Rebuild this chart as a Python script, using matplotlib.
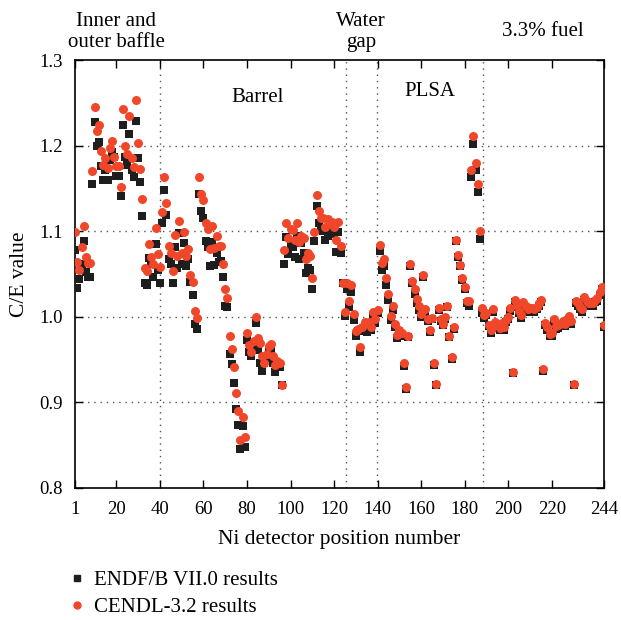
import matplotlib
matplotlib.use("Agg")
import matplotlib.pyplot as plt
from matplotlib.lines import Line2D

plt.rcParams['font.family'] = ['Liberation Serif', 'DejaVu Serif']

positions = list(range(1, 245))

endf = [
    1.078, 1.034, 1.044, 1.062, 1.088, 1.052, 1.046, 1.047,
    1.155, 1.227, 1.199, 1.204, 1.176, 1.160, 1.171, 1.160, 1.183, 1.192, 1.187, 1.164,
    1.164, 1.141, 1.224, 1.187, 1.177, 1.214, 1.172, 1.163, 1.229, 1.185, 1.158, 1.118,
    1.039, 1.037, 1.069, 1.062, 1.046, 1.085, 1.055, 1.040,
    1.110, 1.148, 1.119, 1.068, 1.062, 1.039, 1.082, 1.057, 1.098, 1.062, 1.086, 1.059,
    1.068, 1.041, 1.026, 0.992, 0.986,
    1.144, 1.124, 1.116, 1.088, 1.082, 1.059, 1.087, 1.060, 1.075, 1.064, 1.065, 1.046,
    1.013, 1.011,
    0.957, 0.945, 0.923, 0.892, 0.874, 0.846, 0.872, 0.848,
    0.973, 0.959, 0.954, 0.964, 0.993, 0.961, 0.946, 0.937, 0.946, 0.952, 0.960, 0.962,
    0.946, 0.936, 0.944, 0.941, 0.920,
    1.062, 1.093, 1.073, 1.083, 1.082, 1.070, 1.094, 1.067, 1.086, 1.075, 1.051, 1.057,
    1.055, 1.033, 1.088, 1.129, 1.110, 1.101, 1.100, 1.090, 1.094, 1.097, 1.100, 1.097,
    1.076, 1.099, 1.075, 1.040,
    1.001, 1.033, 1.011, 1.029, 0.996, 0.977, 0.983, 0.959, 0.983, 0.987, 0.982, 0.986,
    0.985, 1.001, 0.993, 1.004,
    1.077, 1.055, 1.059, 1.037, 1.020, 0.996, 1.008, 0.988, 0.975, 0.981, 0.978, 0.943,
    0.916, 0.976, 1.059, 1.039, 1.027, 1.016, 1.008, 1.000, 1.047, 1.006, 0.995, 0.982,
    0.997, 0.944, 0.920, 1.008, 0.995, 0.990, 0.998, 1.011, 0.976, 0.951, 0.986, 1.088,
    1.070, 1.059, 1.043, 1.033, 1.016, 1.013, 1.163, 1.202, 1.171, 1.146, 1.091,
    1.005, 0.999, 1.002, 0.989, 0.981, 1.006, 0.991, 0.987, 0.984, 0.990, 0.985, 0.994,
    0.997, 1.007, 0.934, 1.017, 1.011, 1.004, 0.999, 1.014, 1.010, 1.006, 1.007, 1.007,
    1.006, 1.009, 1.013, 1.017, 0.937, 0.990, 0.985, 0.977, 0.978, 0.994, 0.986, 0.987,
    0.989, 0.992, 0.989, 0.995, 0.998, 0.992, 0.920, 1.016, 1.013, 1.009, 1.006, 1.020,
    1.015, 1.013, 1.014, 1.013, 1.017, 1.019, 1.026, 1.032, 0.988,
]

cendl = [
    1.099, 1.064, 1.055, 1.081, 1.106, 1.070, 1.063, 1.063,
    1.170, 1.245, 1.217, 1.224, 1.194, 1.177, 1.186, 1.174, 1.197, 1.205, 1.187, 1.176,
    1.176, 1.152, 1.243, 1.200, 1.190, 1.234, 1.186, 1.175, 1.253, 1.203, 1.173, 1.138,
    1.057, 1.053, 1.085, 1.070, 1.062, 1.104, 1.073, 1.058,
    1.122, 1.163, 1.133, 1.083, 1.075, 1.054, 1.096, 1.071, 1.112, 1.075, 1.099, 1.071,
    1.079, 1.049, 1.041, 1.007, 0.999,
    1.163, 1.143, 1.137, 1.109, 1.102, 1.079, 1.106, 1.080, 1.094, 1.083, 1.083, 1.062,
    1.032, 1.022,
    0.977, 0.962, 0.941, 0.911, 0.890, 0.856, 0.883, 0.860,
    0.981, 0.967, 0.959, 0.972, 1.000, 0.975, 0.969, 0.954, 0.946, 0.957, 0.966, 0.968,
    0.954, 0.944, 0.948, 0.946, 0.920,
    1.078, 1.110, 1.092, 1.102, 1.101, 1.090, 1.109, 1.087, 1.094, 1.092, 1.068, 1.075,
    1.071, 1.045, 1.099, 1.142, 1.124, 1.116, 1.116, 1.105, 1.114, 1.109, 1.111, 1.105,
    1.090, 1.111, 1.083, 1.040,
    1.006, 1.040, 1.018, 1.037, 1.003, 0.983, 0.986, 0.965, 0.988, 0.994, 0.993, 0.994,
    0.988, 1.006, 0.998, 1.008,
    1.084, 1.063, 1.067, 1.045, 1.027, 1.001, 1.013, 0.992, 0.979, 0.984, 0.981, 0.946,
    0.918, 0.978, 1.062, 1.042, 1.033, 1.021, 1.013, 1.003, 1.049, 1.009, 0.997, 0.984,
    0.999, 0.946, 0.922, 1.010, 0.997, 0.992, 1.000, 1.013, 0.978, 0.953, 0.988, 1.090,
    1.072, 1.061, 1.045, 1.035, 1.018, 1.018, 1.171, 1.211, 1.180, 1.155, 1.100,
    1.010, 1.002, 1.005, 0.991, 0.984, 1.009, 0.994, 0.990, 0.987, 0.993, 0.988, 0.996,
    1.000, 1.010, 0.936, 1.020, 1.014, 1.007, 1.002, 1.017, 1.013, 1.009, 1.010, 1.010,
    1.009, 1.012, 1.016, 1.020, 0.939, 0.993, 0.988, 0.980, 0.981, 0.997, 0.989, 0.990,
    0.992, 0.995, 0.992, 0.998, 1.001, 0.995, 0.922, 1.019, 1.016, 1.012, 1.009, 1.023,
    1.018, 1.016, 1.016, 1.016, 1.020, 1.022, 1.029, 1.035, 0.991,
]

x_ticks = [1, 20, 40, 60, 80, 100, 120, 140, 160, 180, 200, 220, 244]
y_ticks = [0.8, 0.9, 1.0, 1.1, 1.2, 1.3]
region_bounds = [40, 125.3, 139.6, 188.5]
series_labels = ["ENDF/B VII.0 results", "CENDL-3.2 results"]

W, H = 621, 620
fig = plt.figure(figsize=(W / 100, H / 100), dpi=100)
ax = fig.add_axes([75 / W, 1 - 488 / H, (604 - 75) / W, (488 - 60) / H])

for yv in y_ticks[1:-1]:
    ax.axhline(yv, color='#555555', lw=1.0, ls=(0, (1, 3.5)), zorder=1)
for xv in region_bounds:
    ax.axvline(xv, color='#555555', lw=1.0, ls=(0, (1, 3.5)), zorder=1)

ax.scatter(positions, endf, marker='s', s=28, color='#1e1e1e', linewidths=0, zorder=3)
ax.scatter(positions, cendl, marker='o', s=42, color='#f0472a', linewidths=0, zorder=4)

ax.set_xlim(1, 244)
ax.set_ylim(0.8, 1.3)
ax.set_xticks(x_ticks)
ax.set_yticks(y_ticks)
ax.set_yticklabels([f"{v:.1f}" for v in y_ticks])
ax.tick_params(direction='in', length=6, width=1.0, top=True, right=True,
               labelsize=13.5)
ax.tick_params(axis='x', pad=9)
ax.tick_params(axis='y', pad=9)
for s in ax.spines.values():
    s.set_linewidth(1.2)

ax.set_xlabel("Ni detector position number", fontsize=15.5, labelpad=9)
ax.set_ylabel("C/E value", fontsize=15.5, labelpad=7)

def ftext(px, py, s, **kw):
    fig.text(px / W, 1 - py / H, s, ha='center', va='center', fontsize=15,
             linespacing=1.1, **kw)

ftext(116, 32, "Inner and\nouter baffle")
ftext(361, 32, "Water\ngap")
ftext(543, 32, "3.3% fuel")
ftext(258, 97, "Barrel")
ftext(430, 92, "PLSA")

handles = [
    Line2D([], [], marker='s', ls='none', color='#1e1e1e', markersize=4),
    Line2D([], [], marker='o', ls='none', color='#f0472a', markersize=5),
]
fig.legend(handles, series_labels, loc='center left',
           bbox_to_anchor=(59 / W, 1 - 594 / H), frameon=False, fontsize=15,
           handlelength=0.7, handletextpad=0.5, labelspacing=0.35, borderpad=0)

fig.savefig("out.png", dpi=100)
